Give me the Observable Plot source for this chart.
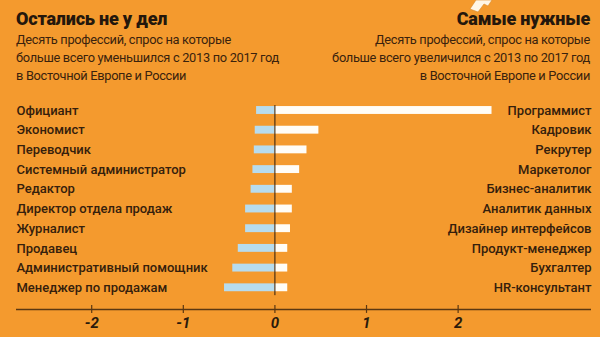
<!DOCTYPE html>
<html>
<head>
<meta charset="utf-8">
<script src="https://cdn.jsdelivr.net/npm/d3@7"></script>
<script src="https://cdn.jsdelivr.net/npm/@observablehq/plot@0.6"></script>
<style>
  html, body { margin: 0; padding: 0; }
  body { width: 600px; height: 337px; background: #f49a2e; overflow: hidden; font-family: Roboto, "Open Sans", sans-serif; color: #3a220d; }
  #wrap { position: relative; width: 600px; height: 337px; }
  .hdr { position: absolute; top: 8px; }
  .hdr h1 { margin: 0; font-size: 18px; line-height: 22px; font-weight: 900; color: #24170c; letter-spacing: -0.2px; }
  .hdr p { margin: 1px 0 0 0; font-size: 12.8px; line-height: 18px; font-weight: 400; color: #3a220d; letter-spacing: -0.3px; }
  #hl { left: 16px; text-align: left; }
  #hr { right: 10px; text-align: right; }
  #paper { position: absolute; left: 466px; top: 0; }
  #chart { position: absolute; left: 0; top: 95px; }
</style>
</head>
<body>
<div id="wrap">
  <svg id="paper" width="34" height="14"><path d="M10,0 L26,0 L22,6 L18,4 L12,12 L4,9 Z" fill="#fff6e6" stroke="#d98a2a" stroke-width="0.6"/></svg>
  <div class="hdr" id="hl"><h1>Остались не у дел</h1><p>Десять профессий, спрос на которые<br>больше всего уменьшился с 2013 по 2017 год<br>в Восточной Европе и России</p></div>
  <div class="hdr" id="hr"><h1>Самые нужные</h1><p>Десять профессий, спрос на которые<br>больше всего увеличился с 2013 по 2017 год<br>в Восточной Европе и России</p></div>
  <div id="chart"></div>
</div>
<script>
const leftLabels = ["Официант","Экономист","Переводчик","Системный администратор","Редактор","Директор отдела продаж","Журналист","Продавец","Административный помощник","Менеджер по продажам"];
const leftValues = [-0.20,-0.215,-0.225,-0.24,-0.26,-0.32,-0.32,-0.40,-0.46,-0.55];
const rightLabels = ["Программист","Кадровик","Рекрутер","Маркетолог","Бизнес-аналитик","Аналитик данных","Дизайнер интерфейсов","Продукт-менеджер","Бухгалтер","HR-консультант"];
const rightValues = [2.37,0.48,0.35,0.27,0.19,0.19,0.17,0.14,0.14,0.14];
const tickValues = [-2,-1,0,1,2];
const tickLabels = ["-2","-1","0","1","2"];

const rows = leftLabels.map((l, i) => ({i, left: l, lv: leftValues[i], right: rightLabels[i], rv: rightValues[i]}));
const axisLevel = 10.1;
const textColor = "#35200c";

const chart = Plot.plot({
  width: 600,
  height: 242,
  marginLeft: 16,
  marginRight: 9,
  marginTop: 0,
  marginBottom: 0,
  style: {background: "transparent", overflow: "visible"},
  x: {domain: [-2.821, 3.456], axis: null},
  y: {domain: [-0.761, 11.523], reverse: true, axis: null},
  marks: [
    Plot.rect(rows, {x1: () => 0, x2: d => d.lv, y1: d => d.i - 0.2, y2: d => d.i + 0.2, fill: "#b7dcee"}),
    Plot.rect(rows, {x1: () => 0, x2: d => d.rv, y1: d => d.i - 0.2, y2: d => d.i + 0.2, fill: "#fffdf7"}),
    Plot.ruleX([0], {x: d => d, y1: () => -0.25, y2: () => 9.4, stroke: "#2b1a0b", strokeWidth: 1}),
    Plot.text(rows, {y: d => d.i, text: d => d.left, frameAnchor: "left", textAnchor: "start", fill: textColor, fontSize: 13, fontWeight: 500, fontFamily: "Roboto"}),
    Plot.text(rows, {y: d => d.i, text: d => d.right, frameAnchor: "right", textAnchor: "end", fill: textColor, fontSize: 13, fontWeight: 500, fontFamily: "Roboto"}),
    Plot.ruleY([axisLevel], {y: d => d, stroke: "#5b3812", strokeWidth: 1.5}),
    Plot.ruleX(tickValues, {x: d => d, y1: () => axisLevel - 0.2, y2: () => axisLevel + 0.2, stroke: "#5b3812", strokeWidth: 1.2}),
    Plot.text(tickValues, {x: d => d, y: () => 10.82, text: (d, i) => tickLabels[i], fill: "#2b1a0b", fontSize: 15, fontWeight: "bold", fontStyle: "italic", fontFamily: "Liberation Sans Narrow, Roboto"})
  ]
});
document.getElementById("chart").appendChild(chart);
</script>
</body>
</html>
